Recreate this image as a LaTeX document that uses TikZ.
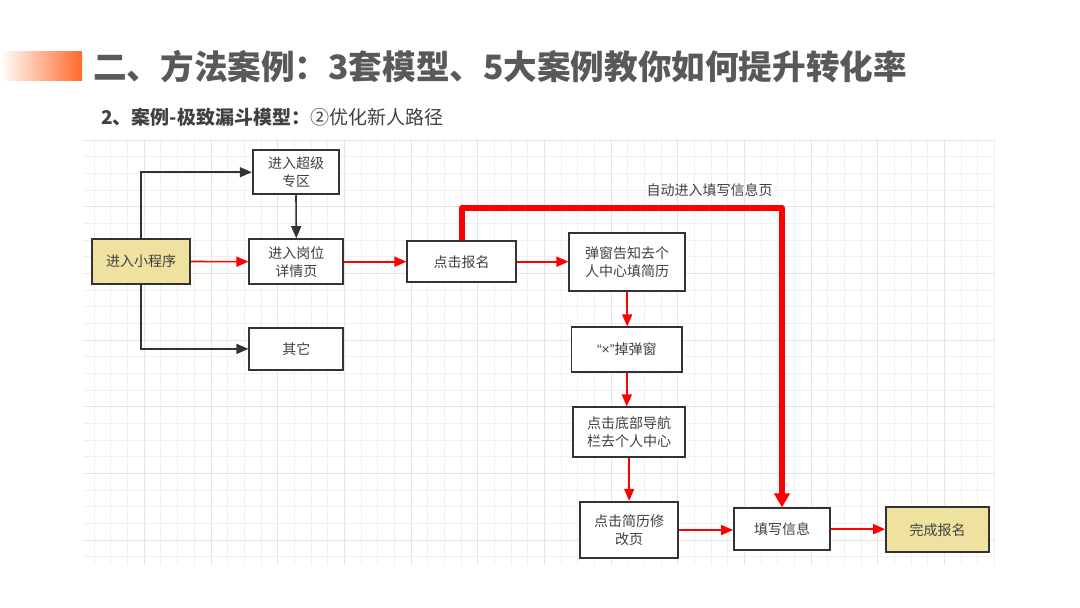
\documentclass[tikz,border=0pt]{standalone}
\usepackage{fontspec}
\setmainfont{Noto Sans CJK SC}
\newfontfamily\latinfont{Liberation Sans}
\usetikzlibrary{arrows.meta}
\definecolor{barorange}{HTML}{FF6A2B}
\definecolor{titlegray}{HTML}{595959}
\definecolor{textgray}{HTML}{404040}
\definecolor{boxline}{HTML}{333333}
\definecolor{khaki}{HTML}{EFE19F}
\definecolor{gridminor}{HTML}{F0F0F0}
\definecolor{gridmajor}{HTML}{E4E4E4}
\begin{document}
\begin{tikzpicture}[x=1pt,y=-1pt,
  box/.style={draw=boxline,line width=1.8pt,fill=white,inner sep=0pt,align=center,
    text=textgray,font=\fontsize{14}{18}\selectfont},
  endbox/.style={box,fill=khaki},
  blackarrow/.style={draw=boxline,line width=1.6pt,-{Triangle[length=12pt,width=10pt]}},
  redarrow/.style={draw=red,line width=1.6pt,-{Triangle[length=12pt,width=10pt]}},
  bigred/.style={draw=red,line width=6pt,line join=round,-{Triangle[length=14pt,width=15pt]}}]
  \useasboundingbox (0,0) rectangle (1080,608);
  % Title bar
  \shade[left color=white,right color=barorange] (0,51) rectangle (82,80);
  \node[anchor=west,inner sep=0pt,text=titlegray,font=\fontsize{33.6}{40}\selectfont\bfseries] (title) at (93,67)
    {二、方法案例：3套模型、5大案例教你如何提升转化率};
  \node[anchor=west,inner sep=0pt,text=textgray,font=\fontsize{19}{23}\selectfont] (subtitle) at (101,117)
    {\textbf{2、案例-极致漏斗模型：}②优化新人路径};
  % Grid
  \fill[white] (84,139) rectangle (994,565);
  \foreach \i in {0,...,54} {
    \pgfmathsetmacro\xx{94.33+16.667*\i}
    \pgfmathtruncatemacro\mj{mod(\i+1,4)}
    \ifnum\mj=0 \draw[gridmajor,line width=1pt] (\xx,139) -- (\xx,565);
    \else \draw[gridminor,line width=1pt] (\xx,139) -- (\xx,565); \fi
  }
  \foreach \j in {0,...,25} {
    \pgfmathsetmacro\yy{140+16.667*\j}
    \pgfmathtruncatemacro\mj{mod(\j,4)}
    \ifnum\mj=0 \draw[gridmajor,line width=1pt] (84,\yy) -- (994,\yy);
    \else \draw[gridminor,line width=1pt] (84,\yy) -- (994,\yy); \fi
  }
  % Boxes
  \node[endbox,minimum width=97.7pt,minimum height=45pt] (start) at (141.15,261.5) {进入小程序};
  \node[box,minimum width=86.6pt,minimum height=44.3pt] (zhuanqu) at (296,172.2) {进入超级\\专区};
  \node[box,minimum width=94pt,minimum height=45.3pt] (detail) at (296.3,261.7) {进入岗位\\详情页};
  \node[box,minimum width=94pt,minimum height=42.3pt] (other) at (296.3,348.9) {其它};
  \node[box,minimum width=108.7pt,minimum height=41.3pt] (baoming) at (461.7,261.7) {点击报名};
  \node[box,minimum width=115.7pt,minimum height=58pt] (tanchuang) at (627.2,261.7) {弹窗告知去个\\人中心填简历};
  \node[box,minimum width=110.7pt,minimum height=44.4pt] (closepop) at (626.8,349.5) {{\latinfont “×”}掉弹窗};
  \node[box,minimum width=111.7pt,minimum height=50pt] (navcenter) at (629.2,432.3) {点击底部导航\\栏去个人中心};
  \node[box,minimum width=98.3pt,minimum height=56.6pt] (resume) at (629.2,530) {点击简历修\\改页};
  \node[box,minimum width=96pt,minimum height=41.7pt] (tianxie) at (782,529.2) {填写信息};
  \node[endbox,minimum width=103.3pt,minimum height=45pt] (finish) at (937.7,529.8) {完成报名};
  % Connectors
  \draw[blackarrow] (start.north) |- (zhuanqu.west);
  \draw[blackarrow] (start.south) |- (other.west);
  \draw[blackarrow] (zhuanqu.south) -- (detail.north);
  \draw[redarrow] (start.east) -- (detail.west);
  \draw[redarrow] (detail.east) -- (baoming.west);
  \draw[redarrow] (baoming.east) -- (tanchuang.west);
  \draw[redarrow] (tanchuang.south) -- (tanchuang.south |- closepop.north);
  \draw[redarrow] (closepop.south) -- (closepop.south |- navcenter.north);
  \draw[redarrow] (navcenter.south) -- (resume.north);
  \draw[redarrow] (resume.east) -- (resume.east -| tianxie.west);
  \draw[redarrow] (tianxie.east) -- (tianxie.east -| finish.west);
  % Shortcut
  \coordinate (autoturn) at (782,207.7);
  \draw[bigred] (baoming.north) |- (autoturn) -- (tianxie.north);
  \node[text=textgray,font=\fontsize{14}{18}\selectfont,inner sep=0pt] (autolabel) at (709.5,190) {自动进入填写信息页};
\end{tikzpicture}
\end{document}
